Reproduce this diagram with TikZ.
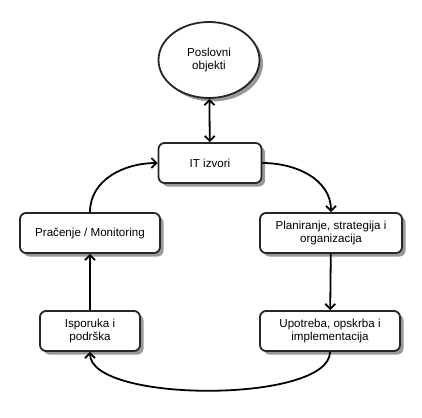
\documentclass[tikz,border=0pt]{standalone}
\usepackage{fontspec}
\setmainfont{Liberation Sans}
\usetikzlibrary{shapes.geometric,shadows,arrows.meta}

\tikzset{
  vrh/.tip={Straight Barb[length=5pt,width=10pt,line width=1.8pt]},
  korak/.style={draw=black!85, line width=1.8pt, rounded corners=6pt, fill=white,
    minimum height=40pt, align=center, font=\fontsize{11.6}{13.5}\selectfont,
    drop shadow={shadow xshift=3.5pt, shadow yshift=-3.5pt, fill=black!40, opacity=1}},
  veza/.style={line width=1.8pt, -vrh}
}

\begin{document}
\begin{tikzpicture}[x=1pt, y=-1pt]

\useasboundingbox (0, 0) rectangle (422, 417);

\node[korak, ellipse, minimum width=101pt, minimum height=76pt, rounded corners=0pt] (objekti) at (209, 60) {Poslovni\\objekti};
\node[korak, minimum width=103pt] (izvori) at (210, 163) {IT izvori};
\node[korak, minimum width=142pt] (planiranje) at (331, 233) {Planiranje, strategija i\\organizacija};
\node[korak, minimum width=140pt] (upotreba) at (330, 331) {Upotreba, opskrba i\\implementacija};
\node[korak, minimum width=100pt] (isporuka) at (90, 331) {Isporuka i\\podrška};
\node[korak, minimum width=140pt] (pracenje) at (90, 233) {Pračenje / Monitoring};

%veze
\draw[veza, vrh-vrh] (objekti) -- (izvori);
\draw[veza] (izvori.east) to[out=0, in=90] (planiranje.north);
\draw[veza] (planiranje) -- (upotreba);
\draw[veza] (upotreba.south) to[out=-90, in=-90, looseness=0.55] (isporuka.south);
\draw[veza] (isporuka) -- (pracenje);
\draw[veza] (pracenje.north) to[out=90, in=180] (izvori.west);

\end{tikzpicture}
\end{document}
